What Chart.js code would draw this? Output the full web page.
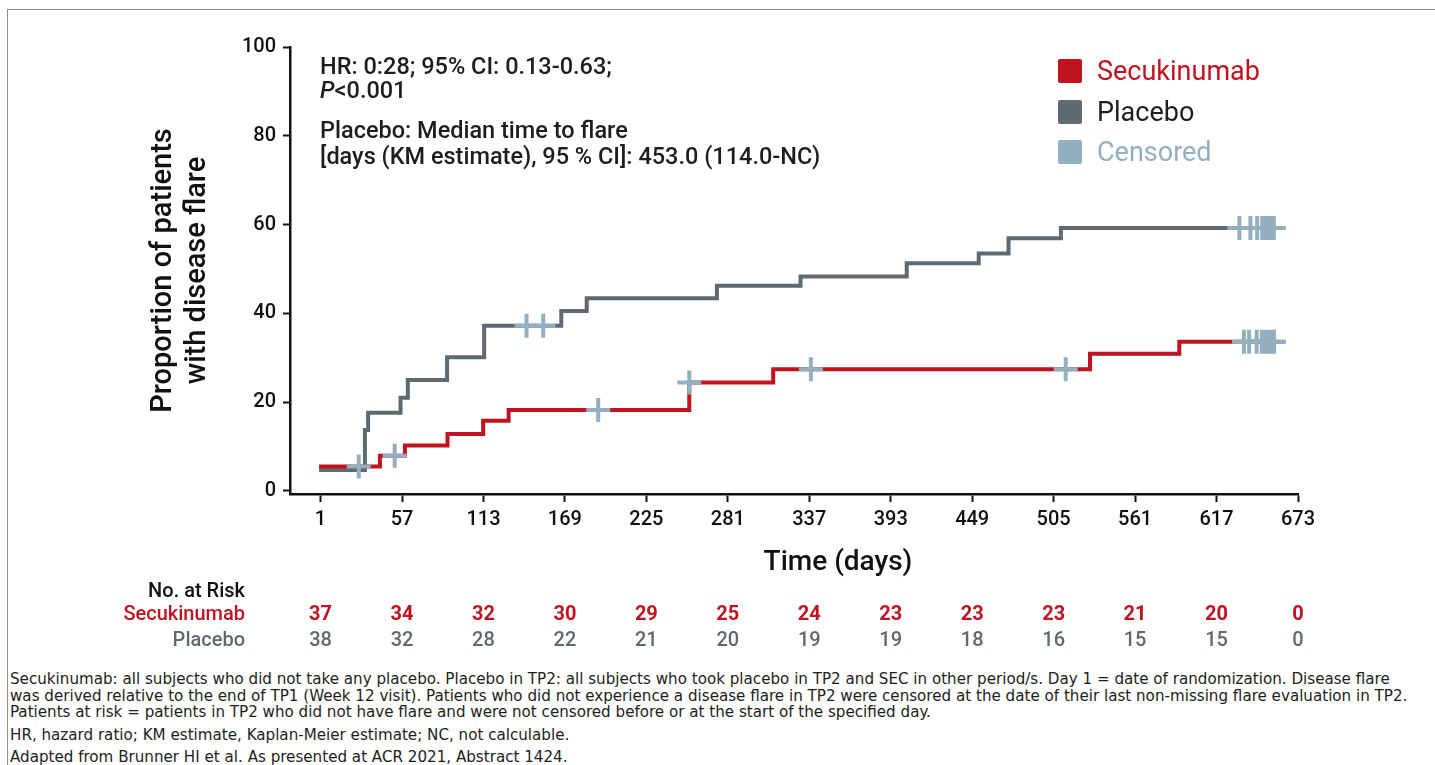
<!DOCTYPE html>
<html>
<head>
<meta charset="utf-8">
<script src="https://cdn.jsdelivr.net/npm/chart.js@4.4.0/dist/chart.umd.min.js"></script>
<style>
  body { margin: 0; background: #fff; font-family: Roboto, "Noto Sans", sans-serif; }
  #wrap { position: relative; width: 1435px; height: 765px; overflow: hidden; }
  #frame { position: absolute; left: 7px; top: 9px; width: 1500px; height: 900px;
           border-left: 1.5px solid #8e8e8e; border-top: 1.5px solid #8e8e8e; }
  canvas { position: absolute; left: 0; top: 0; }
  .note { position: absolute; left: 320px; font-size: 23.5px; font-weight: 500; color: #1d1d1b;
          white-space: nowrap; line-height: 24px; }
  .sq { position: absolute; left: 1058px; width: 24px; height: 24px; border-radius: 2px; }
  .lg { position: absolute; left: 1097px; font-size: 27px; line-height: 30px; white-space: nowrap; }
  .foot { position: absolute; left: 10px; font-family: "Liberation Sans Narrow", "DejaVu Sans Condensed", Roboto, sans-serif;
          font-size: 15.5px; line-height: 17px; color: #1d1d1b; white-space: nowrap;
          transform: scaleX(1.085); transform-origin: left center; }
</style>
</head>
<body>
<div id="wrap">
  <div id="frame"></div>
  <canvas id="km" width="1435" height="660"></canvas>

  <div class="note" style="top:54px">HR: 0:28; 95% CI: 0.13-0.63;</div>
  <div class="note" style="top:78px"><i>P</i>&lt;0.001</div>
  <div class="note" style="top:118px">Placebo: Median time to flare</div>
  <div class="note" style="top:144px">[days (KM estimate), 95 % CI]: 453.0 (114.0-NC)</div>

  <div class="sq" style="top:59px;background:#c0121f"></div>
  <div class="lg" style="top:56px;color:#c0121f">Secukinumab</div>
  <div class="sq" style="top:100px;background:#5e6a71"></div>
  <div class="lg" style="top:97px;color:#1d1d1b">Placebo</div>
  <div class="sq" style="top:140px;background:#94afbf"></div>
  <div class="lg" style="top:137px;color:#94afbf">Censored</div>

  <div class="foot" style="top:671px">Secukinumab: all subjects who did not take any placebo. Placebo in TP2: all subjects who took placebo in TP2 and SEC in other period/s. Day 1 = date of randomization. Disease flare</div>
  <div class="foot" style="top:688px">was derived relative to the end of TP1 (Week 12 visit). Patients who did not experience a disease flare in TP2 were censored at the date of their last non-missing flare evaluation in TP2.</div>
  <div class="foot" style="top:704px">Patients at risk = patients in TP2 who did not have flare and were not censored before or at the start of the specified day.</div>
  <div class="foot" style="top:727px">HR, hazard ratio; KM estimate, Kaplan-Meier estimate; NC, not calculable.</div>
  <div class="foot" style="top:749px">Adapted from Brunner HI et al. As presented at ACR 2021, Abstract 1424.</div>
</div>
<script>
// time axis ticks (days) and numbers at risk
const tickDays = [1, 57, 113, 169, 225, 281, 337, 393, 449, 505, 561, 617, 673];
const secRisk = [37, 34, 32, 30, 29, 25, 24, 23, 23, 23, 21, 20, 0];
const placeboRisk = [38, 32, 28, 22, 21, 20, 19, 19, 18, 16, 15, 15, 0];
const yTicks = [0, 20, 40, 60, 80, 100];

// KM steps: day of event and cumulative % with flare after it
const secDays = [0, 41.8, 59, 88.3, 112.8, 130.3, 254.5, 312.2, 530, 591.4, 657];
const secPct = [5.5, 7.9, 10.2, 12.8, 15.8, 18.2, 24.4, 27.4, 30.9, 33.6, 33.6];
const placeboDays = [0, 31.5, 33.7, 56, 61, 88, 113.5, 166.5, 184, 273.5, 331, 404, 453.5, 474, 510, 657];
const placeboPct = [4.7, 13.7, 17.6, 21, 25, 30.1, 37.2, 40.5, 43.4, 46.2, 48.3, 51.3, 53.5, 56.9, 59.2, 59.2];

// censoring days
const secCensored = [27.3, 52, 191.9, 254.5, 338.1, 513.3, 635.9, 639.4, 644.6, 648.1, 650.4, 652.6, 655, 656.5];
const placeboCensored = [142.6, 154.1, 632.7, 640.3, 644.9, 648.4, 650.6, 652.9, 654.8, 656.4];

const red = "#c0121f";
const gray = "#5e6a71";
const censCol = "#94afbf";

function levelAt(days, pct, t) {
  let v = pct[0];
  for (let i = 0; i < days.length; i++) {
    if (days[i] <= t) v = pct[i];
  }
  return v;
}

const toPts = (days, pct) => days.map((d, i) => ({ x: d, y: pct[i] }));
const censPts = secCensored.map((d) => ({ x: d, y: levelAt(secDays, secPct, d) }))
  .concat(placeboCensored.map((d) => ({ x: d, y: levelAt(placeboDays, placeboPct, d) })));

const tickFont = { family: "Roboto", size: 20, weight: "500" };

const riskPlugin = {
  id: "risk",
  afterDraw(chart) {
    const ctx = chart.ctx;
    const xs = chart.scales.x;
    ctx.save();
    ctx.textBaseline = "middle";
    ctx.textAlign = "center";
    ctx.font = "500 28px Roboto";
    ctx.fillStyle = "#111";
    ctx.fillText("Time (days)", 838, 563);

    ctx.textAlign = "right";
    ctx.font = "500 20px Roboto";
    ctx.fillStyle = "#111";
    ctx.fillText("No. at Risk", 245, 592);
    ctx.fillStyle = red;
    ctx.fillText("Secukinumab", 245, 615);
    ctx.fillStyle = gray;
    ctx.fillText("Placebo", 245, 641);

    ctx.textAlign = "center";
    tickDays.forEach((d, i) => {
      const px = xs.getPixelForValue(d);
      ctx.font = "700 20px Roboto";
      ctx.fillStyle = red;
      ctx.fillText(secRisk[i], px, 615);
      ctx.font = "500 20px Roboto";
      ctx.fillStyle = gray;
      ctx.fillText(placeboRisk[i], px, 641);
    });
    ctx.restore();
  },
};

new Chart(document.getElementById("km").getContext("2d"), {
  type: "line",
  data: {
    datasets: [
      {
        label: "Placebo",
        data: toPts(placeboDays, placeboPct),
        stepped: true,
        borderColor: gray,
        borderWidth: 4,
        pointRadius: 0,
        fill: false,
        order: 3,
      },
      {
        label: "Secukinumab",
        data: toPts(secDays, secPct),
        stepped: true,
        borderColor: red,
        borderWidth: 4,
        pointRadius: 0,
        fill: false,
        order: 2,
      },
      {
        label: "Censored",
        data: censPts,
        showLine: false,
        pointStyle: "cross",
        pointRadius: 12,
        pointBorderWidth: 4,
        pointBorderColor: censCol,
        pointBackgroundColor: censCol,
        order: 1,
      },
    ],
  },
  options: {
    responsive: false,
    animation: false,
    events: [],
    layout: { padding: { left: 0, top: 47, right: 137, bottom: 86 } },
    plugins: { legend: { display: false }, tooltip: { enabled: false } },
    scales: {
      x: {
        type: "linear",
        min: -20,
        max: 673,
        afterBuildTicks: (s) => { s.ticks = tickDays.map((v) => ({ value: v })); },
        afterFit: (s) => { s.height = 80; },
        grid: { display: true, drawOnChartArea: false, drawTicks: true, tickLength: 8, tickWidth: 2, tickColor: "#111" },
        border: { display: true, color: "#111", width: 2.5 },
        ticks: { padding: 6, color: "#111", font: tickFont, maxRotation: 0, autoSkip: false },
      },
      y: {
        type: "linear",
        min: -0.7,
        max: 100,
        afterBuildTicks: (s) => { s.ticks = yTicks.map((v) => ({ value: v })); },
        afterFit: (s) => { s.width = 290; },
        grid: { display: true, drawOnChartArea: false, drawTicks: true, tickLength: 7, tickWidth: 2, tickColor: "#111" },
        border: { display: true, color: "#111", width: 2.5 },
        ticks: { padding: 7, color: "#111", font: tickFont },
        title: {
          display: true,
          text: ["Proportion of patients", "with disease flare"],
          color: "#111",
          font: { family: "Roboto", size: 29, weight: "500" },
          padding: { top: 146, bottom: 0 },
        },
      },
    },
  },
  plugins: [riskPlugin],
});
</script>
</body>
</html>
